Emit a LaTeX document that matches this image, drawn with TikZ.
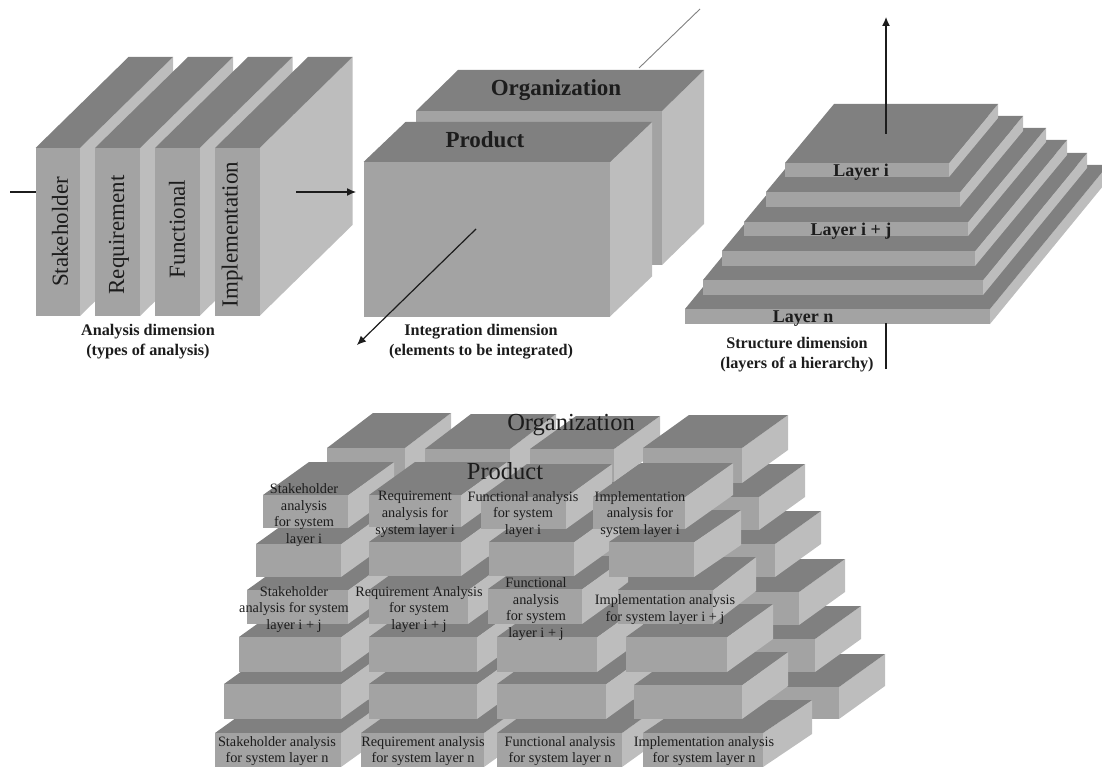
\documentclass[tikz,border=0pt]{standalone}
\usepackage{fontspec}
\setmainfont{Liberation Serif}
\usetikzlibrary{arrows.meta}
\definecolor{topgray}{HTML}{808080}
\definecolor{frontgray}{HTML}{A3A3A3}
\definecolor{sidegray}{HTML}{BDBDBD}
\definecolor{inkgray}{HTML}{1C1C1C}
\tikzset{
	top face/.style={fill=topgray},
	front face/.style={fill=frontgray},
	side face/.style={fill=sidegray},
	axis line/.style={draw=inkgray,line width=1.2pt},
	axis arrow/.style={axis line,-{Latex[length=9pt,width=8pt]}},
	side axis/.style={draw=gray,line width=0.9pt},
	dim label/.style={inner sep=0pt,align=center,text=inkgray,font=\fontsize{16.2}{20}\selectfont\bfseries},
	head label/.style={inner sep=0pt,text=inkgray,font=\fontsize{23}{26}\selectfont\bfseries},
	slab label/.style={inner sep=0pt,rotate=90,text=inkgray,font=\fontsize{23}{26}\selectfont},
	layer label/.style={inner sep=0pt,text=inkgray,font=\fontsize{18}{20}\selectfont\bfseries},
	sheet label/.style={inner sep=0pt,text=inkgray,font=\fontsize{24.5}{28}\selectfont},
	cell label/.style={inner sep=0pt,align=center,text=inkgray,font=\fontsize{14.3}{16.8}\selectfont},
}
\newcommand{\blockbox}[6]{
	\fill[side face] (#1+#3,#2) -- ++(#5,-#6) -- ++(0,#4) -- ++(-#5,#6) -- cycle;
	\fill[top face] (#1,#2) -- ++(#5,-#6) -- ++(#3,0) -- ++(-#5,#6) -- cycle;
	\fill[front face] (#1,#2) rectangle ++(#3,#4);
}
\begin{document}
\begin{tikzpicture}[x=1pt,y=-1pt]
	\useasboundingbox (0,0) rectangle (1102,767);
	\blockbox{35.5}{148}{44.5}{168}{93}{91}
	\blockbox{95}{148}{45}{168}{93}{91}
	\blockbox{155}{148}{44.5}{168}{93}{91}
	\blockbox{215}{148}{44.5}{168}{93}{91}
	\blockbox{416}{111}{246}{154}{42}{41}
	\blockbox{363.5}{162}{246.5}{154.5}{42}{40}
	\blockbox{685}{309}{305}{15}{118}{144}
	\blockbox{703}{280}{280}{15}{104}{127}
	\blockbox{722}{251}{253}{15}{92}{111}
	\blockbox{744}{222}{224}{14}{78}{94}
	\blockbox{766}{192}{194}{15}{63}{76}
	\blockbox{785}{163}{164}{14}{49}{59}
	\coordinate (analysisin) at (10,192);
	\coordinate (analysisfront) at (36,192);
	\coordinate (analysisback) at (296,192);
	\coordinate (analysisend) at (356,192);
	\coordinate (integrationback) at (639,68);
	\coordinate (integrationfar) at (700,9);
	\coordinate (integrationfront) at (476,229);
	\coordinate (integrationend) at (357,345);
	\coordinate (structurelow) at (886,369);
	\coordinate (structurebase) at (886,323);
	\coordinate (structuretop) at (886,134);
	\coordinate (structureend) at (886,17);
	\draw[axis line] (analysisin)--(analysisfront);
	\draw[axis arrow] (analysisback)--(analysisend);
	\draw[side axis] (integrationback)--(integrationfar);
	\draw[axis arrow] (integrationfront)--(integrationend);
	\draw[axis line] (structurelow)--(structurebase);
	\draw[axis arrow] (structuretop)--(structureend);
	\node[slab label] (stakeslab) at (60,232) {Stakeholder};
	\node[slab label] (reqslab) at (119,235) {Requirement};
	\node[slab label] (funcslab) at (177,229) {Functional};
	\node[slab label] (implslab) at (232,234.5) {Implementation};
	\node[head label] (orgsheet) at (556,90) {Organization};
	\node[head label] (prodsheet) at (485,140) {Product};
	\node[layer label] (layeri) at (861,172) {Layer i};
	\node[layer label] (layerij) at (851,231) {Layer i + j};
	\node[layer label] (layern) at (803,319) {Layer n};
	\node[dim label] (analysisdim) at (148,342) {Analysis dimension\\(types of analysis)};
	\node[dim label] (integrationdim) at (481,342) {Integration dimension\\(elements to be integrated)};
	\node[dim label] (structuredim) at (797,355) {Structure dimension\\(layers of a hierarchy)};
	\blockbox{270}{686}{126}{33}{46}{33}
	\blockbox{416}{686}{123}{33}{46}{33}
	\blockbox{552}{686}{125}{33}{46}{33}
	\blockbox{719}{687}{120}{32}{46}{33}
	\blockbox{279}{639}{117}{33}{46}{33}
	\blockbox{424}{639}{108}{33}{46}{33}
	\blockbox{552}{639}{109}{33}{46}{33}
	\blockbox{707}{639}{108}{33}{46}{33}
	\blockbox{294}{591}{102}{33}{46}{33}
	\blockbox{424}{591}{108}{33}{46}{33}
	\blockbox{552}{591}{100}{33}{46}{33}
	\blockbox{698}{592}{101}{33}{46}{33}
	\blockbox{302}{544}{85}{33}{46}{33}
	\blockbox{424}{544}{99}{33}{46}{33}
	\blockbox{543}{544}{94}{33}{46}{33}
	\blockbox{680}{544}{95}{33}{46}{33}
	\blockbox{311}{497}{85}{33}{46}{33}
	\blockbox{424}{497}{92}{33}{46}{33}
	\blockbox{544}{497}{85}{33}{46}{33}
	\blockbox{674}{497}{85}{33}{46}{33}
	\blockbox{327}{448}{78}{33}{46}{35}
	\blockbox{425}{449}{85}{33}{46}{35}
	\blockbox{530}{449}{84}{33}{46}{33}
	\blockbox{643}{448}{99}{35}{46}{33}
	\blockbox{215}{733}{126}{34}{46}{33}
	\blockbox{361}{733}{123}{34}{46}{33}
	\blockbox{497}{733}{125}{34}{46}{33}
	\blockbox{643}{733}{120}{34}{49}{33}
	\blockbox{224}{684}{117}{35}{46}{33}
	\blockbox{369}{684}{108}{35}{46}{33}
	\blockbox{497}{684}{109}{35}{46}{33}
	\blockbox{634}{685}{108}{34}{46}{33}
	\blockbox{239}{637}{102}{35}{46}{33}
	\blockbox{369}{637}{108}{35}{46}{33}
	\blockbox{497}{637}{100}{35}{46}{33}
	\blockbox{626}{637}{101}{35}{46}{33}
	\blockbox{247}{590}{101}{34}{46}{33}
	\blockbox{369}{590}{99}{34}{46}{33}
	\blockbox{488}{589}{94}{35}{46}{33}
	\blockbox{618}{590}{95}{34}{43}{33}
	\blockbox{256}{544}{85}{33}{46}{33}
	\blockbox{369}{542}{92}{34}{46}{33}
	\blockbox{489}{542}{85}{34}{46}{33}
	\blockbox{609}{542}{85}{35}{47}{32}
	\blockbox{263}{495}{85}{33}{46}{33}
	\blockbox{369}{495}{92}{32}{46}{33}
	\blockbox{481}{497}{85}{32}{46}{33}
	\blockbox{593}{497}{92}{32}{48}{34}
	\node[sheet label] (orggrid) at (571,425) {Organization};
	\node[sheet label] (prodgrid) at (505,471) {Product};
	\node[cell label] (stakei) at (304,515) {Stakeholder\\analysis\\for system\\layer i};
	\node[cell label] (reqi) at (415,514.5) {Requirement\\analysis for\\system layer i};
	\node[cell label] (funci) at (523,514.5) {Functional analysis\\for system\\layer i};
	\node[cell label] (impli) at (640,514.5) {Implementation\\analysis for\\system layer i};
	\node[cell label] (stakeij) at (294,609.5) {Stakeholder\\analysis for system\\layer i + j};
	\node[cell label] (reqij) at (419,609.5) {Requirement Analysis\\for system\\layer i + j};
	\node[cell label] (funcij) at (536,609) {Functional\\analysis\\for system\\layer i + j};
	\node[cell label] (implij) at (665,609.5) {Implementation analysis\\for system layer i + j};
	\node[cell label] (staken) at (277,751) {Stakeholder analysis\\for system layer n};
	\node[cell label] (reqn) at (423,751) {Requirement analysis\\for system layer n};
	\node[cell label] (funcn) at (560,751) {Functional analysis\\for system layer n};
	\node[cell label] (impln) at (704,751) {Implementation analysis\\for system layer n};
\end{tikzpicture}
\end{document}
